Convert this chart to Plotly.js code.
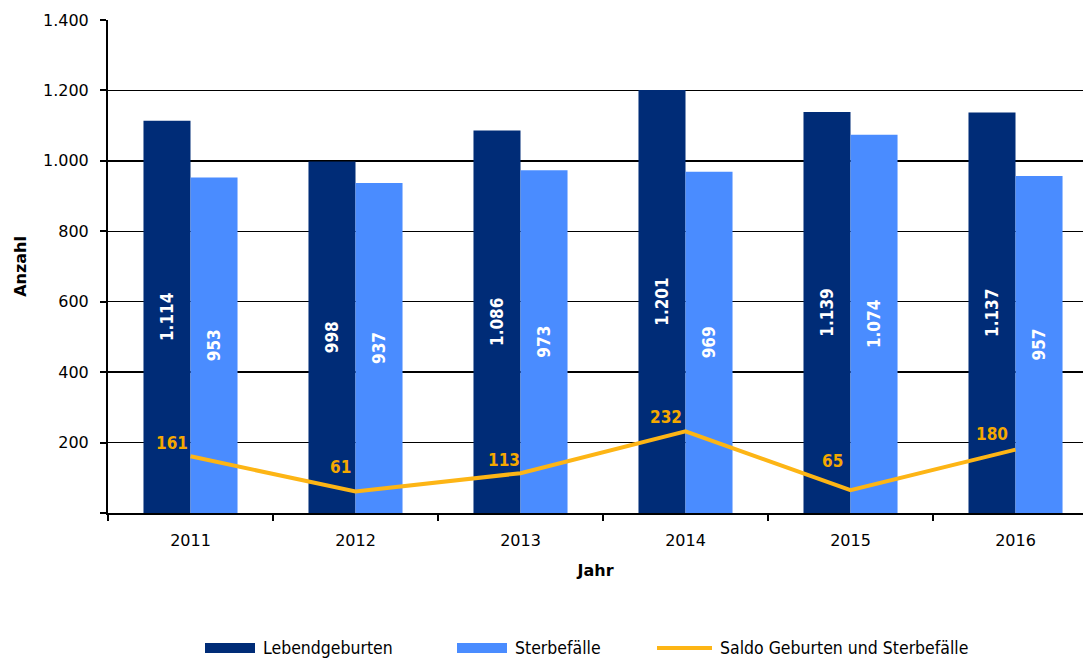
<!DOCTYPE html>
<html><head><meta charset="utf-8">
<script src="https://cdn.plot.ly/plotly-3.0.1.min.js"></script>
<style>html,body{margin:0;padding:0;background:#fff}#c{width:1083px;height:659px}</style>
</head><body><div id="c"></div>
<script>
const years = ["2011","2012","2013","2014","2015","2016"];
const lebend = [1114, 998, 1086, 1201, 1139, 1137];
const sterbe = [953, 937, 973, 969, 1074, 957];
const saldo = [161, 61, 113, 232, 65, 180];
const yTicks = [0, 200, 400, 600, 800, 1000, 1200, 1400];
const yTickText = ["", "200", "400", "600", "800", "1.000", "1.200", "1.400"];
const seriesNames = ["Lebendgeburten", "Sterbefälle", "Saldo Geburten und Sterbefälle"];
const colors = ["#002C77", "#4A8CFF", "#FDB515"];
// label offsets (px) of the saldo labels relative to their points
const saldoDx = [-19, -15, -17, -20, -18, -24];
const saldoDy = [13, 25, 13, 14, 29, 16];

const fmt = v => v >= 1000 ? Math.floor(v/1000) + "." + String(v%1000).padStart(3,"0") : String(v);
const barFont = {family: "DejaVu Sans Condensed", size: 17, color: "#ffffff", weight: "bold"};

const traces = [
  {type:"bar", name:seriesNames[0], x:years, y:lebend, marker:{color:colors[0]},
   text:lebend.map(fmt), textposition:"inside", insidetextanchor:"middle", textangle:-90,
   insidetextfont:barFont, hoverinfo:"none"},
  {type:"bar", name:seriesNames[1], x:years, y:sterbe, marker:{color:colors[1]},
   text:sterbe.map(fmt), textposition:"inside", insidetextanchor:"middle", textangle:-90,
   insidetextfont:barFont, hoverinfo:"none"},
  {type:"scatter", mode:"lines", name:seriesNames[2], x:years, y:saldo,
   line:{color:colors[2], width:4}, hoverinfo:"none"}
];

const W = 1083, H = 659, ML = 108, MR = 0, MT = 20, MB = 146;
const shapes = [], annotations = [];
saldo.forEach((v, i) => annotations.push({x:i, y:v, xref:"x", yref:"y", text:fmt(v), showarrow:false,
  xanchor:"center", yanchor:"middle", xshift:saldoDx[i], yshift:saldoDy[i],
  font:{family:"DejaVu Sans Condensed", size:17, color:"#F5A800", weight:"bold"}}));

// manual legend (wide swatches like the original)
const legX = [205, 457, 657];
const legW = [50, 50, 55];
const legY = 648;
const px2x = p => (p - ML) / (W - ML - MR);
const py2y = p => (H - MB - p) / (H - MT - MB);
for (let i = 0; i < 3; i++) {
  if (i < 2) {
    shapes.push({type:"rect", xref:"paper", yref:"paper", x0:px2x(legX[i]), x1:px2x(legX[i]+legW[i]),
      y0:py2y(legY+5), y1:py2y(legY-5), fillcolor:colors[i], line:{width:0}});
  } else {
    shapes.push({type:"line", xref:"paper", yref:"paper", x0:px2x(legX[i]), x1:px2x(legX[i]+legW[i]),
      y0:py2y(legY), y1:py2y(legY), line:{color:colors[i], width:4}});
  }
  annotations.push({xref:"paper", yref:"paper", x:px2x(legX[i]+legW[i]+6), y:py2y(legY),
    xanchor:"left", yanchor:"middle", showarrow:false, text:seriesNames[i],
    font:{family:"DejaVu Sans Condensed", size:17.5, color:"#000"}});
}

const layout = {
  width:W, height:H,
  margin:{l:ML, r:MR, t:MT, b:MB, autoexpand:false},
  paper_bgcolor:"#fff", plot_bgcolor:"#fff",
  barmode:"group", bargap:0.43, bargroupgap:0,
  font:{family:"DejaVu Sans", color:"#000"},
  showlegend:false,
  shapes, annotations,
  xaxis:{type:"category", range:[-0.5, 5.409], showline:true, linecolor:"#000", linewidth:2,
         ticks:"outside", tickson:"boundaries", ticklen:6, tickwidth:2, tickcolor:"#000",
         ticklabelstandoff:12,
         tickfont:{family:"DejaVu Sans", size:16, color:"#000"}, showgrid:false,
         title:{text:"Jahr", font:{family:"DejaVu Sans", size:16, color:"#000", weight:"bold"}, standoff:16}},
  yaxis:{range:[0,1400], tickvals:yTicks, ticktext:yTickText, showline:true, linecolor:"#000", linewidth:2,
         ticks:"outside", ticklen:6, tickwidth:2, tickcolor:"#000", ticklabelstandoff:8,
         showgrid:true, gridcolor:"#000", gridwidth:1.5, zeroline:false,
         tickfont:{family:"DejaVu Sans", size:16, color:"#000"},
         title:{text:"Anzahl", font:{family:"DejaVu Sans", size:16, color:"#000", weight:"bold"}, standoff:12}}
};
Plotly.newPlot("c", traces, layout, {displayModeBar:false, staticPlot:true});
</script></body></html>
